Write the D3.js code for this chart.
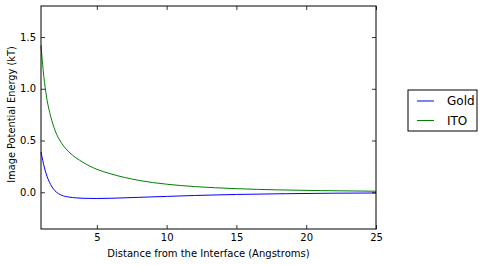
<!DOCTYPE html>
<html>
<head>
<meta charset="utf-8">
<script src="https://cdn.jsdelivr.net/npm/d3@7"></script>
<style>
  body { margin: 0; background: #fff; }
  text { font-family: "DejaVu Sans", sans-serif; fill: #000; }
</style>
</head>
<body>
<div id="chart"></div>
<script>
// values
let goldX = [1, 1.25, 1.5, 1.75, 2, 2.5, 3, 3.5, 4, 5, 6, 8, 10, 12, 15, 18.5, 22, 25];
let goldY = [0.39, 0.235, 0.13, 0.06, 0.015, -0.03, -0.046, -0.054, -0.058, -0.06, -0.058, -0.049, -0.04, -0.031, -0.021, -0.014, -0.009, -0.007];

let itoX = [1, 1.2, 1.4, 1.7, 2, 2.5, 3, 4, 5, 6, 8, 10, 12, 15, 18, 21, 25];
let itoY = [1.42, 1.12, 0.92, 0.73, 0.60, 0.47, 0.39, 0.29, 0.222, 0.178, 0.115, 0.078, 0.055, 0.035, 0.023, 0.016, 0.01];

let xTicks = [5, 10, 15, 20, 25];
let yTicks = [0.0, 0.5, 1.0, 1.5];

let seriesNames = ["Gold", "ITO"];
let seriesColors = ["#0000ff", "#008000"];

let margin = { top: 6, right: 108, bottom: 36, left: 41 };
let width = 484 - margin.left - margin.right;
let height = 265 - margin.top - margin.bottom;

let svg = d3.select("#chart").append("svg")
    .attr("width", 484)
    .attr("height", 265)
    .append("g")
    .attr("transform", "translate(" + margin.left + "," + margin.top + ")");

let x = d3.scaleLinear().domain([1, 25]).range([0, width]);
let y = d3.scaleLinear().domain([-0.355, 1.8]).range([height, 0]);

let line = d3.line()
    .curve(d3.curveMonotoneX)
    .x(d => x(d[0]))
    .y(d => y(d[1]));

let series = [
    d3.zip(goldX, goldY),
    d3.zip(itoX, itoY)
];

svg.selectAll(".series")
    .data(series)
    .enter().append("path")
    .attr("class", "series")
    .attr("fill", "none")
    .attr("stroke", (d, i) => seriesColors[i])
    .attr("stroke-width", 1)
    .attr("d", line);

// axes, ticks point inwards on all four sides
let tickLen = 4;
svg.append("g")
    .attr("transform", "translate(0," + height + ")")
    .call(d3.axisBottom(x).tickValues(xTicks).tickSizeInner(-tickLen).tickSizeOuter(0).tickPadding(5).tickFormat(d3.format("d")));
svg.append("g")
    .call(d3.axisTop(x).tickValues(xTicks).tickSizeInner(-tickLen).tickSizeOuter(0).tickFormat(""));
svg.append("g")
    .call(d3.axisLeft(y).tickValues(yTicks).tickSizeInner(-tickLen).tickSizeOuter(0).tickPadding(5).tickFormat(d3.format(".1f")));
svg.append("g")
    .attr("transform", "translate(" + width + ",0)")
    .call(d3.axisRight(y).tickValues(yTicks).tickSizeInner(-tickLen).tickSizeOuter(0).tickFormat(""));

svg.selectAll(".domain").remove();
svg.selectAll(".tick line").attr("stroke", "#000").attr("stroke-width", 0.8);
svg.selectAll(".tick text").style("font-size", "10px");

svg.append("rect")
    .attr("width", width)
    .attr("height", height)
    .attr("fill", "none")
    .attr("stroke", "#000")
    .attr("stroke-width", 1);

svg.append("text")
    .attr("x", width / 2)
    .attr("y", height + 27.5)
    .style("text-anchor", "middle")
    .style("font-size", "10px")
    .text("Distance from the Interface (Angstroms)");

svg.append("text")
    .attr("transform", "rotate(-90)")
    .attr("x", -height / 2 + 3)
    .attr("y", -26)
    .style("text-anchor", "middle")
    .style("font-size", "9.8px")
    .text("Image Potential Energy (kT)");

// legend outside the axes
let legend = svg.append("g")
    .attr("transform", "translate(" + (408 - margin.left) + "," + (90 - margin.top) + ")");

legend.append("rect")
    .attr("width", 69)
    .attr("height", 41)
    .attr("fill", "#fff")
    .attr("stroke", "#000")
    .attr("stroke-width", 1);

seriesNames.forEach((name, i) => {
    let item = legend.append("g")
        .attr("transform", "translate(0," + (11 + i * 19.5) + ")");
    item.append("line")
        .attr("x1", 9).attr("x2", 26)
        .attr("stroke", seriesColors[i])
        .attr("stroke-width", 1);
    item.append("text")
        .attr("x", 39)
        .attr("y", 4)
        .style("font-size", "12px")
        .text(name);
});
</script>
</body>
</html>
